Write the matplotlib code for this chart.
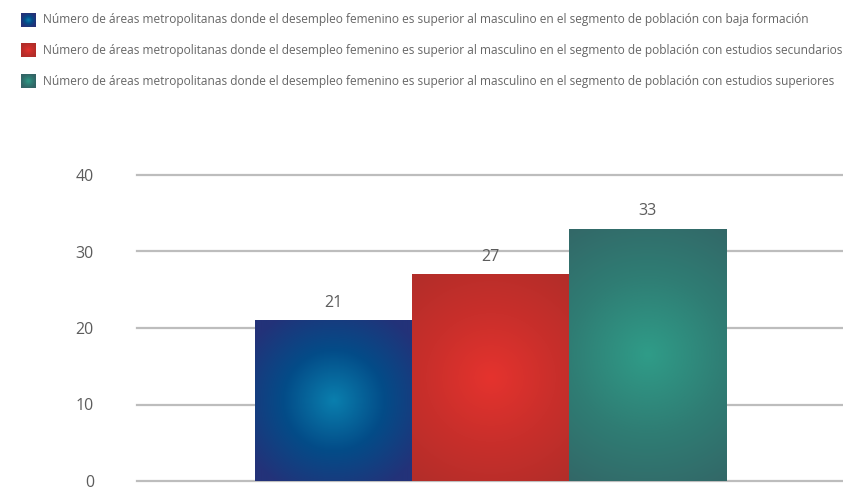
import numpy as np
import matplotlib
matplotlib.use('Agg')
import matplotlib.pyplot as plt
from matplotlib.colors import LinearSegmentedColormap

plt.rcParams['font.family'] = ['Open Sans', 'DejaVu Sans']

# Data
series_labels = [
  'Número de áreas metropolitanas donde el desempleo femenino es superior al masculino en el segmento de población con baja formación',
  'Número de áreas metropolitanas donde el desempleo femenino es superior al masculino en el segmento de población con estudios secundarios',
  'Número de áreas metropolitanas donde el desempleo femenino es superior al masculino en el segmento de población con estudios superiores',
]
values = [21, 27, 33]
y_ticks = [0, 10, 20, 30, 40]

# radial gradient colours: (centre, middle, edge)
gradients = [
  ('#0a7fae', '#034c88', '#233279'),
  ('#e5332e', '#c92f2b', '#b22d29'),
  ('#2f9c88', '#2f7d74', '#336566'),
]

TEXT = '#5c5c5c'
GRID = '#bdbdbd'


def radial_image(w, h, cols, radius):
  yy, xx = np.mgrid[0:h, 0:w]
  d = np.hypot(xx - (w - 1) / 2.0, yy - (h - 1) / 2.0) / radius
  d = np.clip(d, 0, 1)
  cmap = LinearSegmentedColormap.from_list('g', list(cols))
  return cmap(d)


fig = plt.figure(figsize=(8.43, 4.90), dpi=100)
W, H = 843.0, 490.0
ax = fig.add_axes([137 / W, 9 / H, 1 - 137 / W, 306 / H])

x = np.arange(len(values))
bars = ax.bar(x, values, width=1.0, color='none', zorder=3)
ax.set_xlim(-1.247, 3.24)
ax.set_ylim(0, 40)

for yv in y_ticks:
  ax.axhline(yv, color=GRID, lw=1.6, zorder=1, clip_on=False)

for s in ax.spines.values():
  s.set_visible(False)
ax.set_xticks([])
ax.set_yticks(y_ticks)
ax.tick_params(axis='y', length=0, pad=31, labelsize=11.5, labelcolor=TEXT)

fig.canvas.draw()
for bar, cols, v in zip(bars, gradients, values):
  x0, y0 = bar.get_x(), bar.get_y()
  x1, y1 = x0 + bar.get_width(), y0 + bar.get_height()
  (px0, py0), (px1, py1) = ax.transData.transform([(x0, y0), (x1, y1)])
  w_px, h_px = int(round(px1 - px0)), int(round(py1 - py0))
  img = radial_image(w_px, h_px, cols, 0.62 * max(w_px, h_px) if h_px > w_px else 0.75 * w_px)
  im = ax.imshow(img, extent=(x0, x1, y0, y1), aspect='auto', zorder=4,
                 interpolation='bilinear')
  im.set_clip_path(bar)
  ax.annotate(str(v), xy=(bar.get_x() + bar.get_width() / 2, v),
              xytext=(0, 7), textcoords='offset points',
              ha='center', va='bottom', fontsize=11.5, color=TEXT)
ax.set_xlim(-1.247, 3.24)
ax.set_ylim(0, 40)

# legend with gradient squares
lax = fig.add_axes([0, 0, 1, 1])
lax.set_xlim(0, W)
lax.set_ylim(H, 0)
lax.axis('off')
for i, (lab, cols) in enumerate(zip(series_labels, gradients)):
  cy = 20 + i * 30.5
  sq = radial_image(30, 30, cols, 15)
  lax.imshow(sq, extent=(21, 36, cy + 7, cy - 7), aspect='auto', interpolation='bilinear')
  lax.text(43, cy, lab, ha='left', va='center', fontsize=8.55, color='#666666')
lax.set_xlim(0, W)
lax.set_ylim(H, 0)

plt.savefig('out.png', dpi=100)
